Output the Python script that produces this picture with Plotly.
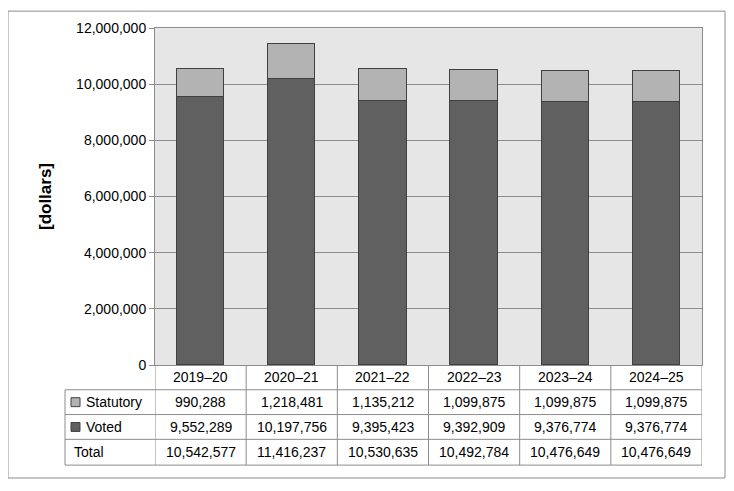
import plotly.graph_objects as go

years = ["2019–20", "2020–21", "2021–22", "2022–23", "2023–24", "2024–25"]
statutory = [990288, 1218481, 1135212, 1099875, 1099875, 1099875]
voted = [9552289, 10197756, 9395423, 9392909, 9376774, 9376774]
total = [10542577, 11416237, 10530635, 10492784, 10476649, 10476649]

W, H = 734, 491
OFF = 8  # page body margin shifts the figure
L, T = 155 - OFF, 25 - OFF
PW, PH = 702 - 155, 365 - 25
R, B = W - L - PW, H - T - PH


def px(x):
    return (x - OFF - L) / PW


def py(y):
    return (T + PH - (y - OFF)) / PH


font = dict(family="Liberation Sans, Arial", size=14, color="#000")
fig = go.Figure()
fig.add_trace(go.Bar(x=list(range(6)), y=voted, name="Voted", width=0.52,
                     marker=dict(color="#606060", line=dict(color="#404040", width=1))))
fig.add_trace(go.Bar(x=list(range(6)), y=statutory, name="Statutory", width=0.52,
                     marker=dict(color="#b3b3b3", line=dict(color="#404040", width=1))))

shapes = []
ann = []
line = dict(color="#8c8c8c", width=1)
for y in [390, 415, 440, 466]:
    shapes.append(dict(type="line", xref="paper", yref="paper", x0=px(65), x1=1,
                       y0=py(y), y1=py(y), line=line))
for i in range(7):
    shapes.append(dict(type="line", xref="x", yref="paper", x0=i - 0.5, x1=i - 0.5,
                       y0=py(466), y1=0, line=line))
shapes.append(dict(type="line", xref="paper", yref="paper", x0=px(65), x1=px(65),
                   y0=py(466), y1=py(390), line=line))
shapes.append(dict(type="rect", xref="paper", yref="paper", x0=px(8), x1=px(725),
                   y0=py(479), y1=py(8), line=dict(color="#8c8c8c", width=1)))
for yc, col in [(402.5, "#b3b3b3"), (427.5, "#606060")]:
    shapes.append(dict(type="rect", xref="paper", yref="paper", x0=px(71), x1=px(80),
                       y0=py(yc + 4.5), y1=py(yc - 4.5), fillcolor=col,
                       line=dict(color="#404040", width=1)))

rows = [(377.5, None, years), (402.5, "Statutory", statutory),
        (427.5, "Voted", voted), (453, "Total", total)]
for yc, label, vals in rows:
    if label:
        ann.append(dict(xref="paper", yref="paper", x=px(84 if label != "Total" else 72),
                        y=py(yc), text=label, showarrow=False, xanchor="left",
                        yanchor="middle", font=font))
    for i, v in enumerate(vals):
        t = v if isinstance(v, str) else f"{v:,}"
        ann.append(dict(xref="x", yref="paper", x=i, y=py(yc), text=t,
                        showarrow=False, xanchor="center", yanchor="middle", font=font))

fig.update_layout(
    width=W, height=H, margin=dict(l=L, r=R, t=T, b=B),
    barmode="stack", showlegend=False, bargap=0,
    plot_bgcolor="#e6e6e6", paper_bgcolor="white", font=font,
    xaxis=dict(range=[-0.5, 5.5], showticklabels=False, showgrid=False,
               showline=True, linecolor="#8c8c8c", mirror=True),
    yaxis=dict(range=[0, 12000000], dtick=2000000, tickformat=",d",
               gridcolor="#8c8c8c", showline=True, linecolor="#8c8c8c",
               mirror=True, ticks="outside", ticklen=5, tickcolor="#8c8c8c",
               title=dict(text="<b>[dollars]</b>", standoff=20), zeroline=False),
    shapes=shapes, annotations=ann,
)
fig.write_html("out.html")
